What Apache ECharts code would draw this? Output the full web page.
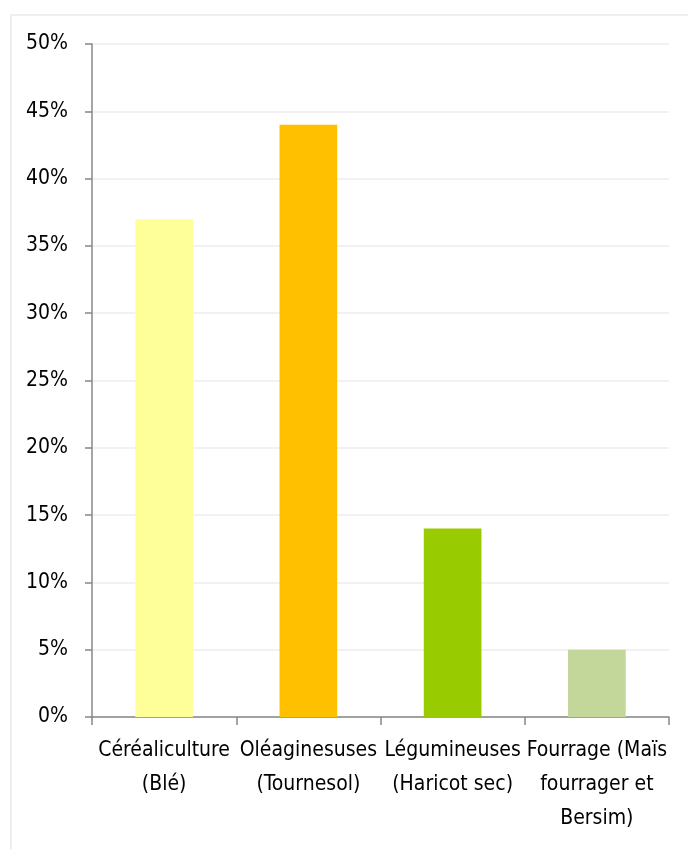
<!DOCTYPE html>
<html>
<head>
<meta charset="utf-8">
<script src="https://cdn.jsdelivr.net/npm/echarts@6/dist/echarts.min.js"></script>
<style>
  html, body { margin: 0; padding: 0; background: #fff; }
  #chart { width: 688px; height: 849px; }
</style>
</head>
<body>
<div id="chart"></div>
<script>
// Répartition des cultures (part en %)
const categories = [
  'Céréaliculture\n(Blé)',
  'Oléaginesuses\n(Tournesol)',
  'Légumineuses\n(Haricot sec)',
  'Fourrage (Maïs\nfourrager et\nBersim)'
];
const shares = [37, 44, 14, 5];
const barColors = ['#FFFF99', '#FFC000', '#99CC00', '#C4D79B'];

const FONT = '"DejaVu Sans Condensed", "Liberation Sans Narrow", sans-serif';

const chart = echarts.init(document.getElementById('chart'));
chart.setOption({
  animation: false,
  backgroundColor: '#fff',
  graphic: [{
    type: 'rect',
    shape: { x: 11, y: 15, width: 720, height: 900 },
    style: { fill: 'none', stroke: '#eeeeee', lineWidth: 2 },
    silent: true
  }],
  grid: { left: 92, right: 19, top: 44, bottom: 132 },
  xAxis: {
    type: 'category',
    data: categories,
    axisLine: { lineStyle: { color: '#878787', width: 1.5 } },
    axisTick: { show: true, length: 8, alignWithLabel: false, lineStyle: { color: '#878787', width: 1.5 } },
    axisLabel: {
      interval: 0,
      margin: 17,
      color: '#000',
      fontFamily: FONT,
      fontSize: 21,
      lineHeight: 34
    }
  },
  yAxis: {
    type: 'value',
    min: 0,
    max: 50,
    interval: 5,
    axisLine: { show: true, lineStyle: { color: '#878787', width: 1.5 } },
    axisTick: { show: true, length: 7, lineStyle: { color: '#878787', width: 1.5 } },
    splitLine: { lineStyle: { color: '#ececec', width: 1.5 } },
    axisLabel: {
      margin: 24,
      color: '#000',
      fontFamily: FONT,
      fontSize: 21,
      formatter: v => v + '%'
    }
  },
  series: [{
    type: 'bar',
    barWidth: '40%',
    data: shares.map((v, i) => ({ value: v, itemStyle: { color: barColors[i] } }))
  }]
});
</script>
</body>
</html>
